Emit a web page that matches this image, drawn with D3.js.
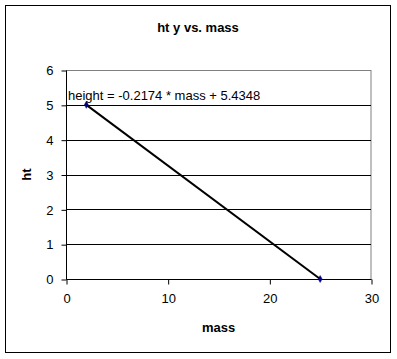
<!DOCTYPE html>
<html><head><meta charset="utf-8">
<script src="https://cdn.jsdelivr.net/npm/d3@7"></script>
<style>body{margin:0;background:#fff;} text{font-family:Arial,"Liberation Sans",sans-serif;}</style>
</head><body>
<svg id="c" width="397" height="359"></svg>
<script>
const massValues = [2, 25];
const heightValues = [5, 0];
const xTicks = [0, 10, 20, 30];
const yTicks = [0, 1, 2, 3, 4, 5, 6];
const titleText = "ht y vs. mass";
const xLabel = "mass";
const yLabel = "ht";
const equationText = "height = -0.2174 * mass + 5.4348";

const svg = d3.select("#c");
svg.append("rect").attr("x",5.5).attr("y",5.5).attr("width",385).attr("height",347)
  .attr("fill","#fff").attr("stroke","#000").attr("stroke-width",1);

const L=66, R=371, T=70, B=279;
const x = d3.scaleLinear().domain([0,30]).range([L,R]);
const y = d3.scaleLinear().domain([0,6]).range([B,T]);

// plot border (gray)
svg.append("rect").attr("x",L+0.5).attr("y",T+0.5).attr("width",R-L-0.5).attr("height",B-T)
  .attr("fill","none").attr("stroke","#808080");

// gridlines
svg.append("g").selectAll("line").data(yTicks.filter(d=>d>0&&d<6)).join("line")
  .attr("x1",L).attr("x2",R).attr("y1",d=>Math.round(y(d))+0.5).attr("y2",d=>Math.round(y(d))+0.5)
  .attr("stroke","#000");

// y axis
const ya = svg.append("g").attr("transform",`translate(${L+0.5},0.5)`)
  .call(d3.axisLeft(y).tickValues(yTicks).tickSize(5).tickPadding(8).tickFormat(d3.format("d")));
ya.select(".domain").attr("stroke","#000").attr("d",`M0,${T}V${B}`);
ya.selectAll("text").attr("font-size",13).attr("font-family","Arial").attr("fill","#000");

// x axis
const xa = svg.append("g").attr("transform",`translate(0.5,${B+0.5})`)
  .call(d3.axisBottom(x).tickValues(xTicks).tickSize(5).tickPadding(9).tickFormat(d3.format("d")));
xa.select(".domain").attr("stroke","#000").attr("d",`M${L},0H${R}`);
xa.selectAll("text").attr("font-size",13).attr("font-family","Arial").attr("fill","#000");

// trend line
const pts = massValues.map((m,i)=>[m,heightValues[i]]);
svg.append("path").datum(pts)
  .attr("d",d3.line().x(d=>x(d[0])).y(d=>y(d[1])))
  .attr("stroke","#000").attr("stroke-width",2).attr("fill","none");

svg.append("g").selectAll("path").data(pts).join("path")
  .attr("transform",d=>`translate(${x(d[0])},${y(d[1])})`)
  .attr("d",d3.symbol().type(d3.symbolDiamond).size(14))
  .attr("fill","#000080").attr("stroke","#000080").attr("stroke-width",0.5);

// texts
svg.append("text").attr("x",198).attr("y",32).attr("text-anchor","middle")
  .attr("font-size",13).attr("font-weight","bold").text(titleText);
svg.append("text").attr("x",(L+R)/2).attr("y",332).attr("text-anchor","middle")
  .attr("font-size",13).attr("font-weight","bold").text(xLabel);
svg.append("text").attr("transform",`translate(31,${(T+B)/2}) rotate(-90)`).attr("text-anchor","middle")
  .attr("font-size",13).attr("font-weight","bold").text(yLabel);
svg.append("text").attr("x",68).attr("y",100).attr("font-size",13).text(equationText);
</script>
</body></html>
